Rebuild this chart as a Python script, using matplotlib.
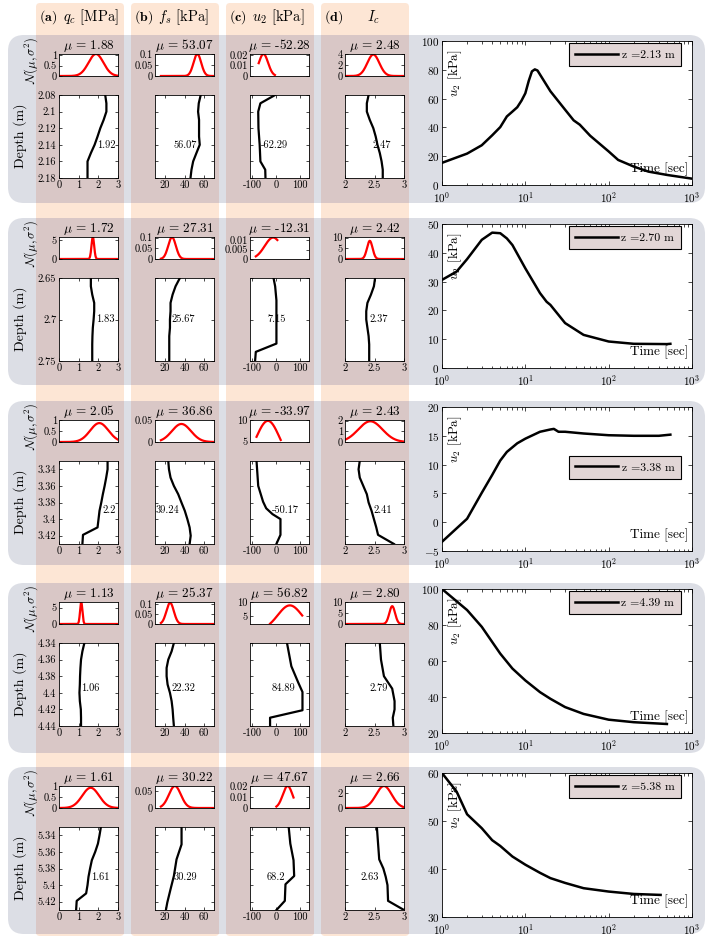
import numpy as np
import matplotlib
matplotlib.use('Agg')
import matplotlib.pyplot as plt
import matplotlib.transforms as mtransforms
from matplotlib.patches import FancyBboxPatch, Rectangle
from matplotlib.ticker import FuncFormatter

plt.rcParams.update({
    'font.family': 'serif',
    'font.serif': ['cmr10'],
    'mathtext.fontset': 'cm',
    'axes.formatter.use_mathtext': True,
    'axes.unicode_minus': False,
    'xtick.direction': 'in',
    'ytick.direction': 'in',
    'axes.linewidth': 0.6,
})

# ---------------- data ----------------
z_depth = [2.13, 2.70, 3.38, 4.39, 5.38]
depth_lim = [(2.08, 2.18), (2.65, 2.75), (3.33, 3.43), (4.34, 4.44), (5.33, 5.43)]
depth_ticks = [[2.08, 2.10, 2.12, 2.14, 2.16, 2.18], [2.65, 2.70, 2.75],
               [3.34, 3.36, 3.38, 3.40, 3.42], [4.34, 4.36, 4.38, 4.40, 4.42, 4.44],
               [5.34, 5.36, 5.38, 5.40, 5.42]]

col_titles = [r'$q_c$ [MPa]', r'$f_s$ [kPa]', r'$u_2$ [kPa]', r'$I_c$']
col_tags = [r'$\mathbf{(a)}$', r'$\mathbf{(b)}$', r'$\mathbf{(c)}$', r'$\mathbf{(d)}$']
col_xlim = [(0, 3), (10, 70), (-108, 136), (2, 3)]
col_xticks = [[0, 1, 2, 3], [20, 40, 60], [-100, 0, 100], [2, 2.5, 3]]

# normal distributions per row (qc, fs, u2, Ic)
mu = [[1.88, 53.07, -52.28, 2.48],
      [1.72, 27.31, -12.31, 2.42],
      [2.05, 36.86, -33.97, 2.43],
      [1.13, 25.37, 56.82, 2.80],
      [1.61, 30.22, 47.67, 2.66]]
sigma = [[0.38, 3.9, 19, 0.102],
         [0.068, 3.9, 35, 0.047],
         [0.465, 9.7, 48, 0.205],
         [0.059, 3.8, 50, 0.049],
         [0.43, 6.1, 20, 0.133]]
pdf_peak = [[1.05, 0.102, 0.021, 3.9],
            [5.86, 0.102, 0.0114, 8.5],
            [0.86, 0.041, 9.9, 1.94],
            [6.73, 0.105, 8.8, 8.1],
            [0.92, 0.0656, 0.02, 3.0]]
pdf_lo = [[0, 16, -72, 2], [0, 16, -84, 2], [0, 16, -81, 2], [0, 16, -25, 2], [0, 16, 1, 2]]
pdf_hi = [[3, 70, -5, 3], [3, 70, 5, 3], [3, 70, 19, 3], [3, 70, 108, 3], [3, 70, 72, 3]]
pdf_ylim = [[(0, 1.05), (0, 0.102), (0, 0.021), (0, 4.0)],
            [(0, 5.86), (0, 0.103), (0, 0.0117), (0, 10.3)],
            [(0, 1.0), (0, 0.05), (4.9, 10.1), (0, 2.06)],
            [(0, 6.73), (0, 0.109), (2.2, 10.0), (0, 10.0)],
            [(0, 1.0), (0, 0.0656), (0, 0.02), (0, 3.0)]]
pdf_ticks = [[[0, 0.5, 1], [0, 0.05, 0.1], [0, 0.01, 0.02], [0, 2, 4]],
             [[0, 5], [0, 0.05, 0.1], [0, 0.005, 0.01], [0, 5, 10]],
             [[0, 0.5, 1], [0, 0.05], [5, 10], [0, 1, 2]],
             [[0, 5], [0, 0.05, 0.1], [5, 10], [0, 5, 10]],
             [[0, 0.5, 1], [0, 0.05], [0, 0.01, 0.02], [0, 2]]]

# depth profiles
qc_depth = [[2.08, 2.09, 2.10, 2.11, 2.12, 2.13, 2.14, 2.15, 2.16, 2.17, 2.18],
            [2.65, 2.66, 2.67, 2.68, 2.69, 2.70, 2.71, 2.72, 2.73, 2.74, 2.75],
            [3.33, 3.34, 3.35, 3.36, 3.37, 3.38, 3.39, 3.40, 3.41, 3.419, 3.43],
            [4.34, 4.35, 4.36, 4.37, 4.38, 4.39, 4.40, 4.41, 4.42, 4.43, 4.44],
            [5.33, 5.34, 5.35, 5.36, 5.37, 5.38, 5.39, 5.40, 5.41, 5.419, 5.43]]
qc_vals = [[2.35, 2.41, 2.41, 2.27, 2.10, 1.96, 1.81, 1.62, 1.45, 1.45, 1.45],
           [1.62, 1.62, 1.69, 1.79, 1.79, 1.76, 1.72, 1.70, 1.69, 1.69, 1.69],
           [2.47, 2.47, 2.40, 2.32, 2.23, 2.15, 2.06, 2.01, 1.96, 1.22, 1.19],
           [1.29, 1.19, 1.12, 1.09, 1.07, 1.06, 1.04, 1.06, 1.11, 1.12, 1.12],
           [2.13, 2.06, 1.98, 1.84, 1.67, 1.58, 1.50, 1.45, 1.38, 0.90, 0.87]]
fs_depth = [[2.08, 2.09, 2.10, 2.11, 2.12, 2.13, 2.14, 2.15, 2.16, 2.17, 2.18],
            [2.65, 2.66, 2.67, 2.68, 2.69, 2.70, 2.71, 2.72, 2.73, 2.74, 2.75],
            [3.33, 3.34, 3.35, 3.36, 3.37, 3.38, 3.39, 3.40, 3.41, 3.42, 3.43],
            [4.34, 4.35, 4.36, 4.37, 4.38, 4.39, 4.40, 4.41, 4.42, 4.43, 4.44],
            [5.33, 5.351, 5.369, 5.389, 5.405, 5.421, 5.43]]
fs_vals = [[56.5, 54.5, 53.8, 54.8, 54.8, 54.8, 55.5, 52.1, 48.8, 47.1, 46.1],
           [35.3, 30.9, 27.9, 25.8, 25.8, 25.2, 25.2, 24.5, 24.5, 24.5, 24.5],
           [23.5, 24.2, 25.8, 29.2, 33.6, 36.9, 40.3, 42.9, 45.2, 46.3, 45.2],
           [29.2, 26.9, 23.5, 21.8, 21.8, 22.8, 25.2, 26.9, 27.9, 28.5, 29.2],
           [37.0, 37.0, 31.9, 29.2, 25.8, 22.5, 21.1]]
u2_depth = [[2.08, 2.09, 2.10, 2.12, 2.14, 2.16, 2.165, 2.17, 2.18],
            [2.65, 2.66, 2.677, 2.70, 2.729, 2.739, 2.75],
            [3.33, 3.36, 3.379, 3.387, 3.394, 3.40, 3.419, 3.43],
            [4.34, 4.368, 4.388, 4.399, 4.421, 4.43, 4.44],
            [5.33, 5.35, 5.37, 5.389, 5.399, 5.419, 5.43]]
u2_vals = [[-4, -65, -74, -73, -68, -65, -55, -45, -44],
           [-10.7, -4, 1.3, 1.3, 1.3, -84, -87],
           [-81, -74, -54, -41, -15, 18, 18, 1],
           [45, 63, 92, 109, 109, -25, -25],
           [52, 58.7, 72, 74.7, 38.7, 36, 1.3]]
ic_depth = [[2.08, 2.09, 2.10, 2.11, 2.12, 2.13, 2.14, 2.15, 2.16, 2.17, 2.18],
            [2.65, 2.66, 2.67, 2.68, 2.69, 2.70, 2.71, 2.72, 2.73, 2.74, 2.75],
            [3.33, 3.34, 3.35, 3.36, 3.37, 3.38, 3.39, 3.40, 3.41, 3.419, 3.43],
            [4.34, 4.36, 4.38, 4.395, 4.41, 4.42, 4.43, 4.44],
            [5.33, 5.369, 5.38, 5.39, 5.40, 5.419, 5.43]]
ic_vals = [[2.40, 2.37, 2.37, 2.42, 2.48, 2.52, 2.55, 2.59, 2.62, 2.64, 2.64],
           [2.51, 2.49, 2.44, 2.38, 2.36, 2.36, 2.38, 2.40, 2.41, 2.41, 2.41],
           [2.25, 2.23, 2.25, 2.31, 2.37, 2.40, 2.45, 2.49, 2.53, 2.56, 2.83],
           [2.59, 2.61, 2.66, 2.80, 2.84, 2.84, 2.81, 2.82],
           [2.54, 2.58, 2.65, 2.69, 2.72, 2.73, 3.00]]

# value labels in the depth panels
ann_vals = [[1.92, 56.07, -62.29, 2.47],
            [1.83, 25.67, 7.15, 2.37],
            [2.2, 39.24, -50.17, 2.41],
            [1.06, 22.32, 84.89, 2.79],
            [1.61, 30.29, 68.2, 2.63]]
ann_x = [[1.92, 29.3, -61, 2.47],
         [1.87, 27.0, -37, 2.41],
         [2.20, 11.0, -17, 2.48],
         [1.12, 27.0, -17, 2.41],
         [1.63, 28.6, -41, 2.27]]
ann_y = [2.14, 2.70, 3.389, 4.394, 5.39]

# pore pressure dissipation
t1 = [1, 2, 3, 4, 5, 6, 7, 8, 9, 10, 11, 12, 13, 14, 20, 30, 38, 45, 60, 100, 130, 200, 300, 500, 1000, 1100]
u1 = [15.4, 21.8, 27.6, 34.5, 40.2, 47.6, 51.0, 54.0, 58.6, 63.7, 72.4, 78.9, 80.3, 79.5, 65.1, 52.3,
      44.9, 41.9, 34.2, 23.3, 17.4, 12.8, 9.3, 7.0, 4.4, 4.0]
t2 = [1, 1.5, 2, 3, 4, 5, 6, 7, 10, 15, 18, 20, 30, 50, 100, 200, 500, 550]
u2 = [30.6, 33.5, 37.8, 44.5, 47.0, 46.8, 45.0, 42.7, 34.6, 26.0, 23.0, 21.9, 15.6, 11.5, 9.2, 8.4, 8.3, 8.4]
t3 = [1, 2, 3, 4, 5, 6, 8, 10, 15, 20, 22, 25, 30, 50, 100, 200, 400, 550]
u3 = [-3.4, 0.6, 5.1, 8.2, 10.7, 12.2, 13.7, 14.5, 15.7, 16.1, 16.2, 15.7, 15.7, 15.4, 15.1, 15.0, 15.0, 15.2]
t4 = [1, 2, 3, 4, 5, 7, 10, 15, 20, 30, 50, 100, 200, 500]
u4 = [100, 88.3, 79.0, 70.6, 64.1, 55.8, 49.2, 42.7, 39.0, 34.4, 30.6, 27.4, 26.0, 25.0]
t5 = [1, 1.5, 2, 3, 4, 5, 7, 10, 15, 20, 30, 50, 100, 200, 420]
u5 = [60, 56.1, 51.4, 48.5, 46.0, 44.8, 42.6, 40.9, 39.2, 38.1, 37.1, 36.0, 35.3, 34.8, 34.6]
t_series = [t1, t2, t3, t4, t5]
u_series = [u1, u2, u3, u4, u5]
u_ylim = [(0, 100), (0, 50), (-5, 20), (20, 100), (30, 60)]
u_yticks = [[0, 20, 40, 60, 80, 100], [0, 10, 20, 30, 40, 50], [-5, 0, 5, 10, 15, 20],
            [20, 40, 60, 80, 100], [30, 40, 50, 60]]

# ---------------- layout (pixels) ----------------
W, H = 710, 940
fig = plt.figure(figsize=(W / 100, H / 100), dpi=100)
pix = mtransforms.Affine2D().scale(1 / W, -1 / H).translate(0, 1) + fig.transFigure

peach, gray, overlap = '#FDE6D5', '#DCDEE5', '#D9C7C6'
bands = [(36, 124), (131, 219), (226, 314), (321, 409)]
row_top = [35, 218, 401, 583, 767]
row_bot = [203, 385, 565, 753, 934]
ax_left = [59, 155, 250, 345]

for bl, br in bands:
    fig.add_artist(FancyBboxPatch((bl, 3), br - bl, 933, boxstyle='round,pad=0,rounding_size=4',
                                  transform=pix, fc=peach, ec='none', zorder=-3))
for top, bot in zip(row_top, row_bot):
    fig.add_artist(FancyBboxPatch((8, top), 697, bot - top, boxstyle='round,pad=0,rounding_size=16',
                                  transform=pix, fc=gray, ec='none', zorder=-2))
    for bl, br in bands:
        fig.add_artist(Rectangle((bl, top), br - bl, bot - top, transform=pix,
                                 fc=overlap, ec='none', zorder=-1))

tag_x = [39, 134, 229, 324]
title_x = [63, 158, 252, 367]
for c in range(4):
    fig.text(tag_x[c], 17, col_tags[c], transform=pix, fontsize=10, va='center')
    fig.text(title_x[c], 17, col_titles[c], transform=pix, fontsize=10.5, va='center')


def add_ax(x0, y0, x1, y1):
    return fig.add_axes([x0 / W, 1 - y1 / H, (x1 - x0) / W, (y1 - y0) / H])


gfmt = FuncFormatter(lambda v, p: '%g' % v)
profiles = [(qc_depth, qc_vals), (fs_depth, fs_vals), (u2_depth, u2_vals), (ic_depth, ic_vals)]

for r in range(5):
    top = row_top[r]
    fig.text(31, top + 25, r'$\mathcal{N}(\mu,\sigma^2)$', transform=pix, fontsize=9,
             rotation=90, ha='center', va='center')
    fig.text(20, top + 101, 'Depth (m)', transform=pix, fontsize=10,
             rotation=90, ha='center', va='center')
    for c in range(4):
        x0 = ax_left[c]
        x1 = x0 + 59
        # pdf panel
        axp = add_ax(x0, top + 19, x1, top + 41)
        xs = np.linspace(pdf_lo[r][c], pdf_hi[r][c], 200)
        ys = pdf_peak[r][c] * np.exp(-0.5 * ((xs - mu[r][c]) / sigma[r][c]) ** 2)
        axp.plot(xs, ys, color='red', lw=1.6)
        axp.set_xlim(col_xlim[c])
        axp.set_ylim(pdf_ylim[r][c])
        axp.set_xticks([])
        axp.set_yticks(pdf_ticks[r][c])
        axp.yaxis.set_major_formatter(gfmt)
        axp.tick_params(labelsize=7.5, length=2.5, width=0.5, pad=1.5, right=True)
        axp.set_title(r'$\mu$ = %.2f' % mu[r][c], fontsize=9.5, pad=2.5)

        # depth profile panel
        axd = add_ax(x0, top + 60, x1, top + 143)
        dz, dv = profiles[c]
        axd.plot(dv[r], dz[r], color='k', lw=1.6)
        axd.set_xlim(col_xlim[c])
        axd.set_ylim(depth_lim[r][1], depth_lim[r][0])
        axd.set_xticks(col_xticks[c])
        axd.set_yticks(depth_ticks[r])
        axd.xaxis.set_major_formatter(gfmt)
        axd.yaxis.set_major_formatter(gfmt)
        axd.tick_params(labelsize=7.5, length=2.5, width=0.5, pad=2, right=True, top=True)
        if c > 0:
            axd.set_yticklabels([])
        axd.text(ann_x[r][c], ann_y[r], '%g' % ann_vals[r][c], fontsize=7.5,
                 ha='left', va='center')

    # dissipation panel
    axr = add_ax(442, top + 6, 692, top + 150)
    axr.semilogx(t_series[r], u_series[r], color='k', lw=1.8, label='z =%.2f m' % z_depth[r])
    axr.set_xlim(1, 1000)
    axr.set_ylim(u_ylim[r])
    axr.set_yticks(u_yticks[r])
    axr.tick_params(which='both', labelsize=8, width=0.5, top=True, right=True)
    axr.tick_params(axis='x', which='both', pad=4)
    axr.tick_params(axis='y', which='both', pad=2)
    axr.tick_params(which='major', length=3)
    axr.tick_params(which='minor', length=1.8)
    axr.text(0.052, 0.94, r'$u_2$ [kPa]', transform=axr.transAxes, rotation=90,
             fontsize=9.5, ha='center', va='top')
    axr.text(0.985, 0.06, 'Time [sec]', transform=axr.transAxes, fontsize=9.5,
             ha='right', va='bottom')
    if r == 2:
        loc, anchor = 'center right', (0.955, 0.58)
    else:
        loc, anchor = 'upper right', (0.955, 0.985)
    axr.legend(loc=loc, bbox_to_anchor=anchor, borderaxespad=0, handlelength=3.6,
               handletextpad=0.3, borderpad=0.55, fancybox=False, framealpha=1,
               facecolor='#E2D6D6', edgecolor='k', prop={'size': 8.5})
    axr.get_legend().get_frame().set_linewidth(0.8)

fig.savefig('out.png', dpi=100)
